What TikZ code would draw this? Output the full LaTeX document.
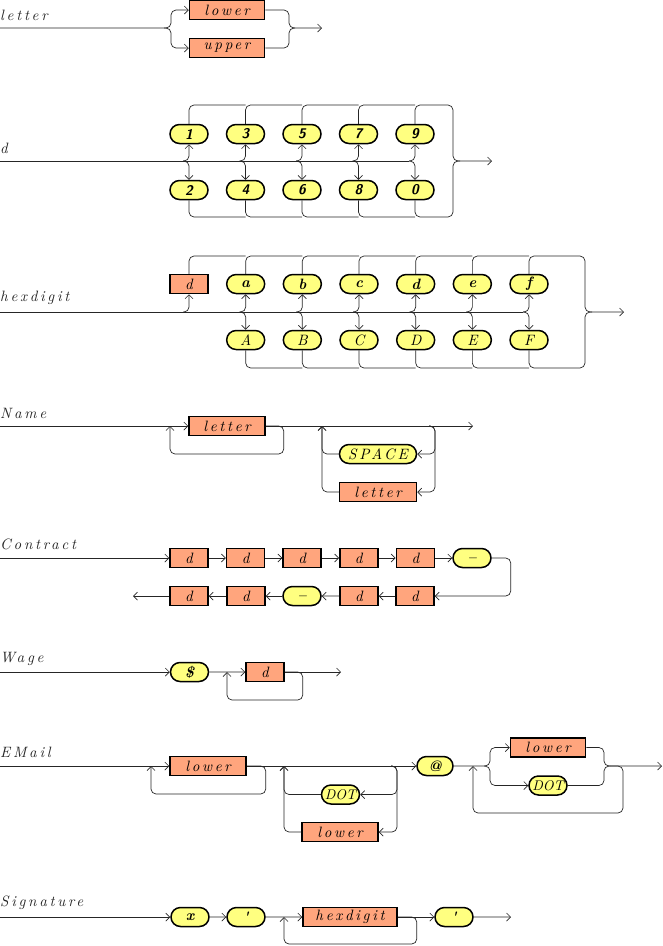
\documentclass[tikz,border=0pt]{standalone}
\usepackage{fontspec}
\usepackage{tikz}
\usetikzlibrary{shapes.misc,arrows.meta}

\newfontfamily\railit[Extension=.otf,LetterSpace=18]{lmroman10-italic}
\newfontfamily\railitn[Extension=.otf]{lmroman10-italic}
\newfontfamily\railbf[Extension=.otf]{lmroman10-bolditalic}
\newfontfamily\railsf[Extension=.otf]{lmsans10-boldoblique}

\definecolor{boxfill}{RGB}{255,165,125}
\definecolor{pillfill}{RGB}{255,255,128}

\tikzset{
  rail/.style={line width=0.7pt, rounded corners=5pt, draw=black!85},
  nterm/.style={draw, line width=1.5pt, fill=boxfill, minimum height=19pt, minimum width=38pt, inner sep=0pt, font=\fontsize{15}{15}\railit},
  term/.style={draw, rounded rectangle, line width=1.5pt, fill=pillfill, minimum height=19pt, minimum width=38pt, inner sep=0pt, font=\fontsize{15}{15}\railbf},
  dashpill/.style={term, text height=8pt, text depth=0pt},
  lbl/.style={anchor=west, inner sep=0pt, text=black!85, font=\fontsize{15}{15}\railit},
  >={Straight Barb[length=4pt,width=8pt]}
}

\begin{document}
\begin{tikzpicture}[x=1pt,y=-1pt]
\useasboundingbox (0,0) rectangle (662,946);

% letter
\node [lbl] (lLetter) at (0,15) {letter};
\coordinate (s1) at (0,28);
\coordinate (bj1) at (164,28);
\coordinate (b1) at (171,28);
\coordinate (m1) at (289,28);
\coordinate (mx1) at (295,28);
\coordinate (e1) at (322,28);
\node [nterm,minimum width=75pt] (lower1) at (227,10) {lower};
\node [nterm,minimum width=75pt] (upper1) at (227,48) {upper};
\draw[rail,->] (s1) -- (b1) |- (lower1);
\draw[rail,->] (bj1) -- (b1) |- (upper1);
\draw[rail,->] (lower1) -| (m1) -- (e1);
\draw[rail] (upper1) -| (m1) -- (mx1);

% d
\node [lbl] (lD) at (0,148) {d};
\coordinate (s2) at (0,161);
\coordinate (dm) at (453,161);
\coordinate (dmx) at (460,161);
\coordinate (de) at (492,161);
\foreach \i in {0,...,4}{
  \pgfmathsetmacro\x{189+56.5*\i}
  \coordinate (dtop\i) at (\x,105);
  \coordinate (dbot\i) at (\x,217);
  \coordinate (dj\i) at (\x-6,161);
}
\coordinate (dtop5) at (453,105);
\coordinate (dbot5) at (453,217);
\foreach \t/\b [count=\i from 0] in {1/2,3/4,5/6,7/8,9/0}{
  \pgfmathsetmacro\x{189+56.5*\i}
  \pgfmathtruncatemacro\n{\i+1}
  \node [term,font=\fontsize{14}{14}\railsf] (dt\i) at (\x,134) {\t};
  \node [term,font=\fontsize{14}{14}\railsf] (db\i) at (\x,190) {\b};
  \draw[rail,->] (dj\i) -| (dt\i);
  \draw[rail,->] (dj\i) -| (db\i);
  \ifnum\i<4
    \draw[rail] (dt\i) |- (dtop\n);
    \draw[rail] (db\i) |- (dbot\n);
  \fi
}
\draw[rail] (s2) -- (dj4);
\draw[rail,->] (dt4) |- (dtop5) -- (dm) -- (de); % right brace
\draw[rail] (db4) |- (dbot5) -- (dm) -- (dmx);

% hexdigit
\node [lbl] (lHex) at (0,298) {hexdigit};
\coordinate (s3) at (0,312);
\coordinate (hm) at (585,312);
\coordinate (hmx) at (592,312);
\coordinate (he) at (624,312);
\foreach \i in {0,...,6}{
  \pgfmathsetmacro\x{189+56.67*\i}
  \coordinate (htop\i) at (\x,256);
  \coordinate (hbot\i) at (\x,368);
  \coordinate (hj\i) at (\x-6,312);
}
\coordinate (htop7) at (585,256);
\coordinate (hbot7) at (585,368);
\node [nterm] (ht0) at (189,284) {d};
\draw[rail,->] (hj0) -| (ht0);
\draw[rail] (ht0) |- (htop1);
\foreach \t/\b [count=\i from 1] in {a/A,b/B,c/C,d/D,e/E,f/F}{
  \pgfmathsetmacro\x{189+56.67*\i}
  \pgfmathtruncatemacro\n{\i+1}
  \node [term] (ht\i) at (\x,284) {\t};
  \node [term,font=\fontsize{15}{15}\railitn] (hb\i) at (\x,340) {\b};
  \draw[rail,->] (hj\i) -| (ht\i);
  \draw[rail,->] (hj\i) -| (hb\i);
  \ifnum\i<6
    \draw[rail] (ht\i) |- (htop\n);
    \draw[rail] (hb\i) |- (hbot\n);
  \fi
}
\draw[rail] (s3) -- (hj6);
\draw[rail,->] (ht6) |- (htop7) -- (hm) -- (he); % right brace
\draw[rail] (hb6) |- (hbot7) -- (hm) -- (hmx);

% Name
\node [lbl] (lName) at (0,413) {Name};
\coordinate (s4) at (0,426);
\coordinate (nback) at (170,426);
\coordinate (nj) at (429,426);
\coordinate (nup) at (322,426);
\coordinate (ne) at (473,426);
\node [nterm,minimum width=76pt] (nletter) at (227,426) {letter};
\node [term,minimum width=77pt,font=\fontsize{15}{15}\railit] (nspace) at (378,454) {\makebox[48pt]{SPACE}};
\node [nterm,minimum width=77pt] (nletter2) at (378,492) {letter};
\draw[rail,->] (s4) -- (nletter);
\draw[rail,->] (nletter) -- (ne);
\draw[rail,->] (nletter.east) -- ++(18,0) -- ++(0,28) -| (nback);
\draw[rail,->] (nj) -- ++(6,0) |- (nspace);
\draw[rail,->] (nj) -- ++(6,0) |- (nletter2);
\draw[rail,->] (nspace) -| (nup);
\draw[rail,->] (nletter2) -| (nup);

% Contract
\node [lbl] (lContract) at (0,544) {Contract};
\coordinate (s5) at (0,558);
\coordinate (ce) at (133,596);
\foreach \i in {1,...,5}{
  \node [nterm] (ct\i) at (189+56.6*\i-56.6,558) {d};
}
\node [dashpill] (ctm) at (472,558) {\textendash};
\node [nterm] (cb1) at (415,596) {d};
\node [nterm] (cb2) at (359,596) {d};
\node [dashpill] (cb3) at (302,596) {\textendash};
\node [nterm] (cb4) at (246,596) {d};
\node [nterm] (cb5) at (189,596) {d};
\draw[rail,->] (s5) -- (ct1);
\foreach \a/\b in {ct1/ct2,ct2/ct3,ct3/ct4,ct4/ct5,ct5/ctm,cb1/cb2,cb2/cb3,cb3/cb4,cb4/cb5}{
  \draw[rail,->] (\a) -- (\b);
}
\draw[rail,->] (ctm.east) -- ++(19,0) |- (cb1);
\draw[rail,->] (cb5) -- (ce);

% Wage
\node [lbl] (lWage) at (0,659) {Wage};
\coordinate (s6) at (0,672);
\coordinate (wback) at (227,672);
\coordinate (we) at (341,672);
\node [term] (wdollar) at (189.5,672) {\$};
\node [nterm] (wd) at (265,672) {d};
\draw[rail,->] (s6) -- (wdollar);
\draw[rail,->] (wdollar) -- (wd);
\draw[rail,->] (wd) -- (we);
\draw[rail,->] (wd.east) -- ++(18,0) -- ++(0,28) -| (wback);

% EMail
\node [lbl] (lEMail) at (0,752) {EMail};
\coordinate (s7) at (0,766);
\coordinate (eback1) at (151,766);
\coordinate (ej) at (391,766);
\coordinate (eback2) at (284,766);
\coordinate (ebj) at (484,766);
\coordinate (ebl) at (490,766);
\coordinate (ebr) at (604,766);
\coordinate (ebx) at (610,766);
\coordinate (eback3) at (473,766);
\coordinate (eend) at (662,766);
\node [nterm,minimum width=76pt] (elow1) at (208,766) {lower};
\node [term,font=\fontsize{14}{14}\railitn] (edot1) at (340.5,794.5) {\makebox[16pt]{DOT}};
\node [nterm,minimum width=76pt] (elow2) at (340,832) {lower};
\node [term,minimum width=36pt] (eat) at (435,766) {@};
\node [nterm,minimum width=75pt] (elow3) at (548,747.5) {lower};
\node [term,font=\fontsize{14}{14}\railitn] (edot2) at (548,785.5) {\makebox[16pt]{DOT}};
\draw[rail,->] (s7) -- (elow1);
\draw[rail,->] (elow1) -- (eat);
\draw[rail,->] (elow1.east) -- ++(19,0) -- ++(0,28) -| (eback1);
\draw[rail,->] (ej) -- ++(6,0) |- (edot1);
\draw[rail,->] (ej) -- ++(6,0) |- (elow2);
\draw[rail,->] (edot1) -| (eback2);
\draw[rail,->] (elow2) -| (eback2);
\draw[rail,->] (eat) -- (ebl) |- (elow3);
\draw[rail,->] (ebj) -- (ebl) |- (edot2);
\draw[rail,->] (elow3) -| (ebr) -- (eend);
\draw[rail] (edot2) -| (ebr) -- (ebx);
\draw[rail,->] (ebx) -- ++(13,0) -- ++(0,47) -| (eback3);

% Signature
\node [lbl] (lSig) at (0,903) {Signature};
\coordinate (s8) at (0,917);
\coordinate (sback) at (284,917);
\coordinate (se) at (511,917);
\node [term] (sx) at (190,917) {x};
\node [term] (sq1) at (246,917) {'};
\node [nterm,minimum width=94pt] (shex) at (350,917) {hexdigit};
\node [term] (sq2) at (454,917) {'};
\draw[rail,->] (s8) -- (sx);
\draw[rail,->] (sx) -- (sq1);
\draw[rail,->] (sq1) -- (shex);
\draw[rail,->] (shex) -- (sq2);
\draw[rail,->] (sq2) -- (se);
\draw[rail,->] (shex.east) -- ++(19,0) -- ++(0,27) -| (sback);

\end{tikzpicture}
\end{document}
